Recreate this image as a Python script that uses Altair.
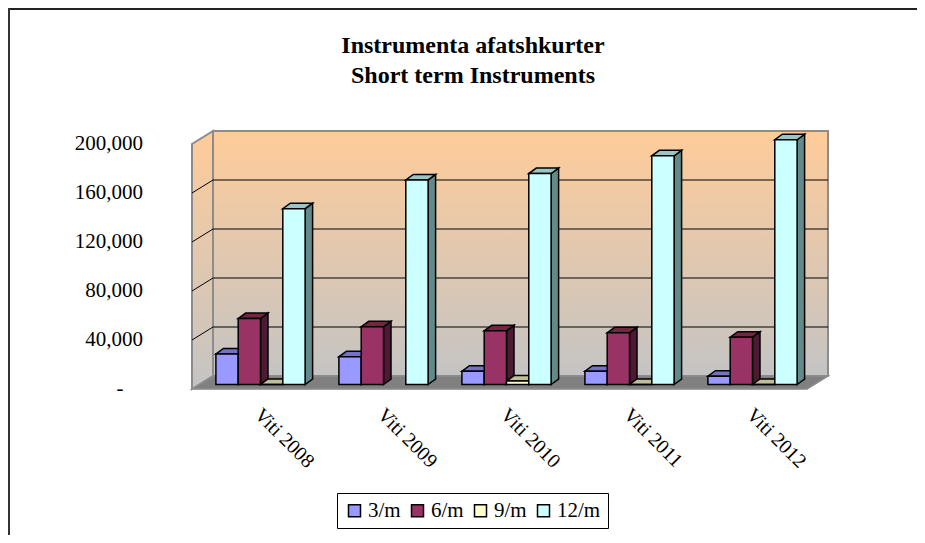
import altair as alt
import pandas as pd

# ---------------- data ----------------
years = ["Viti 2008", "Viti 2009", "Viti 2010", "Viti 2011", "Viti 2012"]
series = ["3/m", "6/m", "9/m", "12/m"]
v_3m = [25000, 22600, 10900, 10900, 6800]
v_6m = [53800, 47100, 43800, 42200, 38600]
v_9m = [0, None, 2800, 0, 0]
v_12m = [143500, 167000, 172200, 186700, 199800]
y_ticks = [0, 40000, 80000, 120000, 160000, 200000]
y_tick_labels = ["-", "40,000", "80,000", "120,000", "160,000", "200,000"]
title_lines = ["Instrumenta afatshkurter", "Short term Instruments"]

front_colors = ["#9999FF", "#993366", "#FFFFCC", "#CCFFFF"]
top_colors = ["#7373BF", "#732640", "#BFBF99", "#99C6C6"]
side_colors = ["#4D4D80", "#4D1A33", "#80806A", "#628A8A"]

FONT = "Liberation Serif"

# ---------------- pseudo-3D geometry (style constants) ----------------
W, H = 615, 245
YMAX = 200000
NCAT = len(years)
px_x = NCAT / W
px_y = YMAX / H
WALL_DX, WALL_DY = 21 * px_x, 13 * px_y
PLANE_DX, PLANE_DY = 7 * px_x, 4.5 * px_y
BAR_DX, BAR_DY = 7.5 * px_x, 5.5 * px_y
BAR_W = 22.3 * px_x
GROUP_PAD = (1 - len(series) * BAR_W) / 2

values = {"3/m": v_3m, "6/m": v_6m, "9/m": v_9m, "12/m": v_12m}

fronts, sides, tops = [], [], []
for i, yr in enumerate(years):
    for j, s in enumerate(series):
        v = values[s][i]
        if v is None:
            continue
        bid = f"{i}-{j}"
        x0 = i + GROUP_PAD + j * BAR_W + PLANE_DX
        x1 = x0 + BAR_W
        b = PLANE_DY
        t = v + PLANE_DY
        fronts.append(dict(id=bid, series=s, year=yr, value=v, x=x0, x2=x1, y=b, y2=t))
        sides.append(dict(id=bid, x=x1, y=b, y2=t, fill=side_colors[j]))
        sides.append(dict(id=bid, x=x1 + BAR_DX, y=b + BAR_DY, y2=t + BAR_DY, fill=side_colors[j]))
        tops.append(dict(id=bid, x=x0, y=t, y2=t, fill=top_colors[j]))
        tops.append(dict(id=bid, x=x0 + BAR_DX, y=t, y2=t + BAR_DY, fill=top_colors[j]))
        tops.append(dict(id=bid, x=x1, y=t, y2=t + BAR_DY, fill=top_colors[j]))
        tops.append(dict(id=bid, x=x1 + BAR_DX, y=t + BAR_DY, y2=t + BAR_DY, fill=top_colors[j]))

df_front = pd.DataFrame(fronts)
df_side = pd.DataFrame(sides)
df_top = pd.DataFrame(tops)

xs = alt.Scale(domain=[0, NCAT], nice=False, zero=False)
ys = alt.Scale(domain=[0, YMAX], nice=False, zero=False)

wall_grad = alt.Gradient(
    gradient="linear",
    stops=[alt.GradientStop(color="#FFCC99", offset=0),
           alt.GradientStop(color="#C4C4C4", offset=1)],
    x1=0, x2=0, y1=0, y2=1,
)

# back wall
df_back = pd.DataFrame({"x": [WALL_DX], "x2": [NCAT + WALL_DX], "y": [WALL_DY], "y2": [YMAX + WALL_DY]})
back = alt.Chart(df_back).mark_rect(fill=wall_grad, stroke="#8C8C8C", strokeWidth=2).encode(
    x=alt.X("x:Q", scale=xs, axis=None), x2="x2:Q",
    y=alt.Y("y:Q", scale=ys, axis=None), y2="y2:Q",
)

# left side wall
df_left = pd.DataFrame({"id": ["w", "w"], "x": [0, WALL_DX], "y": [0, WALL_DY], "y2": [YMAX, YMAX + WALL_DY]})
left = alt.Chart(df_left).mark_area(fill=wall_grad, stroke="#8C8C8C", strokeWidth=2).encode(
    x=alt.X("x:Q", scale=xs, axis=None),
    y=alt.Y("y:Q", scale=ys, axis=None, stack=None), y2="y2:Q", detail="id:N",
)

# floor
df_floor = pd.DataFrame({
    "id": ["f"] * 4,
    "x": [0, WALL_DX, NCAT, NCAT + WALL_DX],
    "y": [0, 0, 0, WALL_DY],
    "y2": [0, WALL_DY, WALL_DY, WALL_DY],
})
floor = alt.Chart(df_floor).mark_area(fill="#808080", stroke="#8C8C8C", strokeWidth=1.5).encode(
    x=alt.X("x:Q", scale=xs, axis=None),
    y=alt.Y("y:Q", scale=ys, axis=None, stack=None), y2="y2:Q", detail="id:N",
)

# gridlines on the back wall
df_grid = pd.DataFrame({"v": y_ticks[1:-1]})
grid = alt.Chart(df_grid).transform_calculate(
    gx=f"{WALL_DX}", gx2=f"{NCAT + WALL_DX}", gy=f"datum.v + {WALL_DY}"
).mark_rule(color="black", strokeWidth=1).encode(
    x=alt.X("gx:Q", scale=xs, axis=None), x2="gx2:Q",
    y=alt.Y("gy:Q", scale=ys, axis=None),
)

# diagonal lines on side wall
diag = alt.Chart(df_grid).transform_calculate(
    dx0="0", dx1=f"{WALL_DX}", dy1=f"datum.v + {WALL_DY}"
).mark_rule(color="black", strokeWidth=1).encode(
    x=alt.X("dx0:Q", scale=xs, axis=None), x2="dx1:Q",
    y=alt.Y("v:Q", scale=ys, axis=None), y2="dy1:Q",
)

side_layer = alt.Chart(df_side).mark_area(stroke="black", strokeWidth=1.5, strokeJoin="miter").encode(
    x=alt.X("x:Q", scale=xs, axis=None),
    y=alt.Y("y:Q", scale=ys, axis=None, stack=None), y2="y2:Q",
    detail="id:N", fill=alt.Fill("fill:N", scale=None),
)
top_layer = alt.Chart(df_top).mark_area(stroke="black", strokeWidth=1.5, strokeJoin="miter").encode(
    x=alt.X("x:Q", scale=xs, axis=None),
    y=alt.Y("y:Q", scale=ys, axis=None, stack=None), y2="y2:Q",
    detail="id:N", fill=alt.Fill("fill:N", scale=None),
)

front_layer = alt.Chart(df_front).mark_bar(stroke="black", strokeWidth=1.5, strokeJoin="miter").encode(
    x=alt.X("x:Q", scale=xs, title=None,
            axis=alt.Axis(values=list(range(NCAT + 1)), labels=False, grid=False,
                          domainColor="black", domainWidth=1, tickColor="black", tickSize=6)),
    x2="x2:Q",
    y=alt.Y("y:Q", scale=ys, title=None, stack=None,
            axis=alt.Axis(values=y_ticks, grid=False, labels=False, domainColor="black",
                          domainWidth=1, tickColor="black", tickSize=5)),
    y2="y2:Q",
    fill=alt.Fill("series:N", title=None,
                  scale=alt.Scale(domain=series, range=front_colors),
                  legend=alt.Legend(orient="none", legendX=145, legendY=349, direction="horizontal",
                                    fillColor="white", strokeColor="black", padding=7,
                                    symbolType="square", symbolSize=144, symbolStrokeColor="black",
                                    symbolStrokeWidth=1.5, symbolOpacity=1,
                                    labelFont=FONT, labelFontSize=21, labelColor="black",
                                    labelOffset=3, columnPadding=6)),
)

# y tick labels (accounting style: numbers right-aligned, "-" for zero)
df_ylab = pd.DataFrame({"v": y_ticks, "t": y_tick_labels})
ylab_num = alt.Chart(df_ylab).transform_filter("datum.v != 0").mark_text(
    align="right", baseline="middle", font=FONT, fontSize=21, color="black").encode(
    x=alt.value(-49), y=alt.Y("v:Q", scale=ys, axis=None), text="t:N",
)
ylab_zero = alt.Chart(df_ylab).transform_filter("datum.v == 0").mark_text(
    align="center", baseline="middle", font=FONT, fontSize=21, color="black").encode(
    x=alt.value(-72), y=alt.Y("v:Q", scale=ys, axis=None), text="t:N",
)

df_lab = pd.DataFrame({"label": years, "pos": [i + 0.5 for i in range(NCAT)]})
labels = alt.Chart(df_lab).mark_text(angle=45, align="left", baseline="alphabetic",
                                      font=FONT, fontSize=20, color="black").encode(
    x=alt.X("pos:Q", scale=xs, axis=None), y=alt.value(H + 27), text="label:N",
)

PL, PT, PR, PB = 184, 136, 110, 146

title = alt.Chart(df_back).mark_text(text=title_lines, lineHeight=30, font=FONT, fontSize=24,
                                     fontWeight="bold", color="black", align="center",
                                     baseline="alphabetic").encode(
    x=alt.value(281), y=alt.value(-91))

frame_top = alt.Chart(df_back).mark_rule(color="#222222", strokeWidth=2).encode(
    x=alt.value(-PL), x2=alt.value(W + PR), y=alt.value(-PT + 1), y2=alt.value(-PT + 1))
frame_left = alt.Chart(df_back).mark_rule(color="#333333", strokeWidth=2).encode(
    x=alt.value(-PL + 1), x2=alt.value(-PL + 1), y=alt.value(-PT), y2=alt.value(H + PB))

chart = alt.layer(
    back, left, floor, grid, diag, side_layer, top_layer, front_layer, ylab_num, ylab_zero,
    labels, title, frame_top, frame_left
).properties(
    width=W, height=H,
    padding={"left": PL, "top": PT, "right": PR, "bottom": PB},
    autosize=alt.AutoSizeParams(type="none"),
).configure_view(stroke=None).configure(background="white")

chart.save("out.html", embed_options={"renderer": "svg", "actions": False})
